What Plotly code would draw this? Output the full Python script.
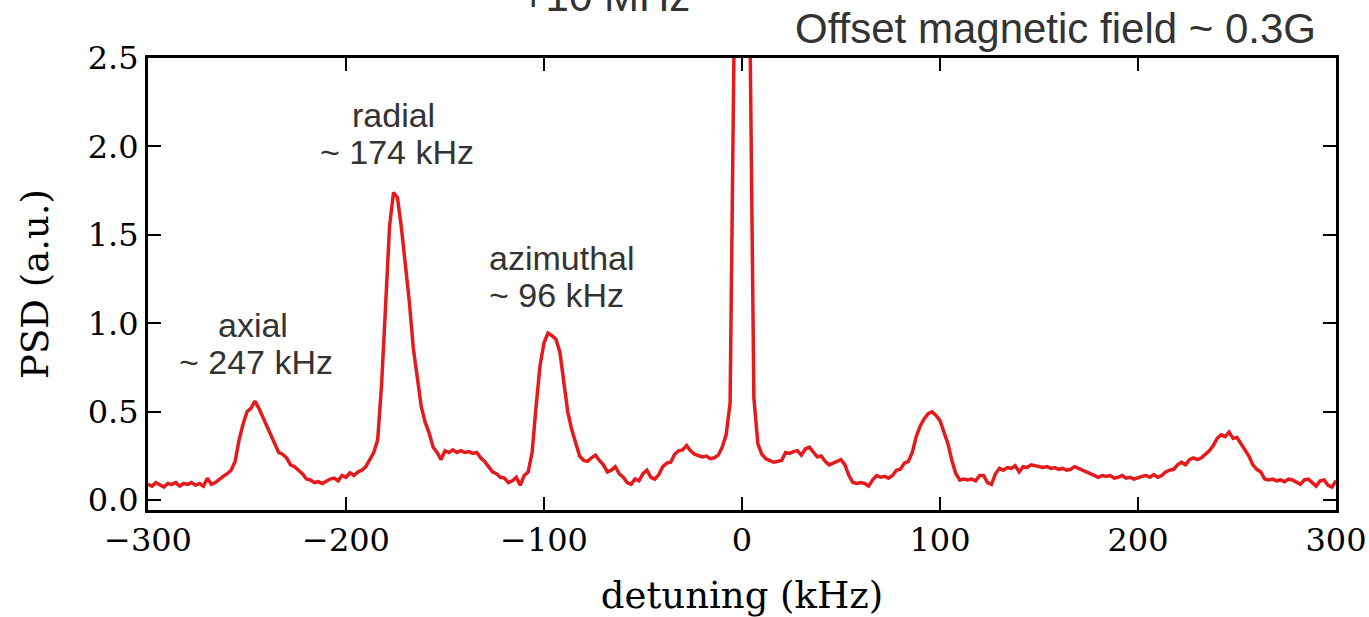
import plotly.graph_objects as go

# sample grid of detuning (kHz), 2 kHz steps
detuning_khz = list(range(-300, 301, 2))

# PSD values (a.u.), one per detuning sample
psd = [
    # -300 .. -282
    0.09, 0.08, 0.10, 0.085, 0.075, 0.095, 0.09, 0.10, 0.08, 0.095,
    # -280 .. -262
    0.09, 0.10, 0.085, 0.095, 0.08, 0.125, 0.09, 0.10, 0.12, 0.135,
    # -260 .. -242
    0.15, 0.17, 0.22, 0.34, 0.43, 0.50, 0.52, 0.56, 0.52, 0.47,
    # -240 .. -222
    0.42, 0.37, 0.31, 0.27, 0.26, 0.24, 0.20, 0.19, 0.17, 0.15,
    # -220 .. -202
    0.12, 0.115, 0.10, 0.105, 0.095, 0.11, 0.12, 0.125, 0.11, 0.14,
    # -200 .. -182
    0.13, 0.155, 0.14, 0.16, 0.17, 0.19, 0.23, 0.27, 0.34, 0.66,
    # -180 .. -162
    1.10, 1.55, 1.74, 1.71, 1.54, 1.34, 1.12, 0.86, 0.68, 0.53,
    # -160 .. -142
    0.44, 0.38, 0.30, 0.27, 0.23, 0.28, 0.27, 0.285, 0.27, 0.28,
    # -140 .. -122
    0.27, 0.275, 0.265, 0.27, 0.24, 0.22, 0.19, 0.16, 0.15, 0.13,
    # -120 .. -102
    0.125, 0.10, 0.11, 0.13, 0.085, 0.14, 0.16, 0.27, 0.53, 0.76,
    # -100 .. -82
    0.89, 0.945, 0.93, 0.91, 0.84, 0.68, 0.50, 0.40, 0.32, 0.25,
    # -80 .. -62
    0.225, 0.22, 0.24, 0.255, 0.225, 0.20, 0.16, 0.17, 0.19, 0.15,
    # -60 .. -42
    0.13, 0.10, 0.09, 0.12, 0.11, 0.15, 0.17, 0.13, 0.12, 0.145,
    # -40 .. -22
    0.19, 0.21, 0.215, 0.26, 0.28, 0.285, 0.31, 0.28, 0.26, 0.25,
    # -20 .. -2
    0.245, 0.25, 0.235, 0.24, 0.255, 0.30, 0.37, 0.55, 2.6, 12.0,
    # 0 .. 18
    30.0, 12.0, 2.7, 0.58, 0.32, 0.26, 0.235, 0.225, 0.215, 0.22,
    # 20 .. 38
    0.225, 0.27, 0.265, 0.275, 0.28, 0.255, 0.29, 0.30, 0.27, 0.245,
    # 40 .. 58
    0.25, 0.22, 0.20, 0.21, 0.225, 0.23, 0.20, 0.14, 0.10, 0.095,
    # 60 .. 78
    0.10, 0.095, 0.08, 0.115, 0.14, 0.13, 0.135, 0.125, 0.14, 0.17,
    # 80 .. 98
    0.175, 0.21, 0.22, 0.27, 0.36, 0.42, 0.46, 0.49, 0.50, 0.48,
    # 100 .. 118
    0.45, 0.38, 0.32, 0.225, 0.15, 0.115, 0.12, 0.115, 0.12, 0.11,
    # 120 .. 138
    0.14, 0.14, 0.10, 0.09, 0.15, 0.18, 0.17, 0.185, 0.18, 0.195,
    # 140 .. 158
    0.16, 0.19, 0.185, 0.20, 0.195, 0.19, 0.185, 0.19, 0.18, 0.185,
    # 160 .. 178
    0.175, 0.18, 0.17, 0.175, 0.19, 0.18, 0.17, 0.165, 0.15, 0.145,
    # 180 .. 198
    0.13, 0.14, 0.135, 0.14, 0.125, 0.13, 0.14, 0.125, 0.13, 0.12,
    # 200 .. 218
    0.125, 0.135, 0.14, 0.13, 0.145, 0.13, 0.14, 0.16, 0.17, 0.175,
    # 220 .. 238
    0.20, 0.215, 0.20, 0.23, 0.24, 0.23, 0.24, 0.26, 0.28, 0.31,
    # 240 .. 258
    0.35, 0.37, 0.36, 0.385, 0.35, 0.355, 0.32, 0.29, 0.25, 0.20,
    # 260 .. 278
    0.175, 0.16, 0.12, 0.115, 0.12, 0.11, 0.115, 0.105, 0.12, 0.115,
    # 280 .. 298
    0.10, 0.09, 0.115, 0.12, 0.10, 0.08, 0.11, 0.115, 0.085, 0.075,
    # 300
    0.11,
]

x_ticks = [-300, -200, -100, 0, 100, 200, 300]
y_ticks = [0.0, 0.5, 1.0, 1.5, 2.0, 2.5]

# peak labels: (text line 1, text line 2, x of line 1, y of line 1, x of line 2, y of line 2)
peak_labels = [
    ("axial", "~ 247 kHz", -247, 0.99, -245.5, 0.78),
    ("radial", "~ 174 kHz", -176, 2.18, -174, 1.97),
    ("azimuthal", "~ 96 kHz", -91, 1.37, -93.5, 1.16),
]

TEXT_COLOR = "#333333"
SANS = "Liberation Sans, Arial, sans-serif"
SERIF = "DejaVu Serif, serif"

fig = go.Figure()
fig.add_trace(go.Scatter(
    x=detuning_khz, y=psd, mode="lines",
    line=dict(color="#e41a1c", width=3.5),
    showlegend=False, hoverinfo="x+y",
))

annotations = []
for l1, l2, x1, y1, x2, y2 in peak_labels:
    annotations.append(dict(x=x1, y=y1, xref="x", yref="y", text=l1, showarrow=False,
                            font=dict(family=SANS, size=34, color=TEXT_COLOR)))
    annotations.append(dict(x=x2, y=y2, xref="x", yref="y", text=l2, showarrow=False,
                            font=dict(family=SANS, size=34, color=TEXT_COLOR)))

annotations.append(dict(x=0.385, y=1.135, xref="paper", yref="paper", text="+10 MHz",
                        showarrow=False, xanchor="center", yanchor="middle",
                        font=dict(family=SANS, size=42, color=TEXT_COLOR)))
annotations.append(dict(x=0.985, y=1.066, xref="paper", yref="paper",
                        text="Offset magnetic field ~ 0.3G",
                        showarrow=False, xanchor="right", yanchor="middle",
                        font=dict(family=SANS, size=42, color=TEXT_COLOR)))

fig.update_layout(
    width=1369, height=617,
    margin=dict(l=148, r=33, t=58, b=107, pad=0, autoexpand=False),
    paper_bgcolor="white", plot_bgcolor="white",
    annotations=annotations,
    showlegend=False,
)

fig.update_xaxes(
    range=[-300, 300], tickvals=x_ticks,
    ticks="inside", ticklen=13, tickwidth=1.5, tickcolor="black",
    showline=True, linewidth=3, linecolor="black", mirror="allticks",
    showgrid=False, zeroline=False,
    tickfont=dict(family=SERIF, size=32, color="black"),
    title=dict(text="detuning (kHz)", font=dict(family=SERIF, size=37, color="black"), standoff=24),
)
fig.update_yaxes(
    range=[-0.055, 2.5], tickvals=y_ticks, tickformat=".1f",
    ticks="inside", ticklen=13, tickwidth=1.5, tickcolor="black",
    showline=True, linewidth=3, linecolor="black", mirror="allticks",
    showgrid=False, zeroline=False,
    tickfont=dict(family=SERIF, size=32, color="black"),
    title=dict(text="PSD (a.u.)", font=dict(family=SERIF, size=37, color="black"), standoff=28),
)

fig.write_html("out.html")
